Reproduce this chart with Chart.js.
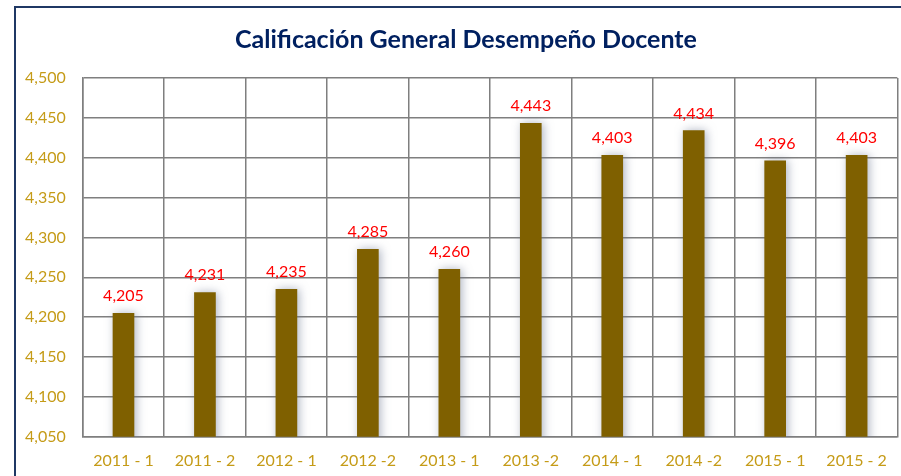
<!DOCTYPE html>
<html>
<head>
<meta charset="utf-8">
<script src="https://cdn.jsdelivr.net/npm/chart.js@4.4.1/dist/chart.umd.min.js"></script>
<style>
  html, body { margin: 0; padding: 0; background: #fff; }
  #wrap { width: 901px; height: 476px; }
</style>
</head>
<body>
<div id="wrap"><canvas id="chart" width="901" height="476"></canvas></div>
<script>
const categories = ['2011 - 1', '2011 - 2', '2012 - 1', '2012 -2', '2013 - 1', '2013 -2', '2014 - 1', '2014 -2', '2015 - 1', '2015 - 2'];
const scores = [4.205, 4.231, 4.235, 4.285, 4.260, 4.443, 4.403, 4.434, 4.396, 4.403];
const yMin = 4.05;
const yMax = 4.5;
const yStep = 0.05;
const chartTitle = 'Calificación General Desempeño Docente';

const fmt = (v) => v.toFixed(3).replace('.', ',');

// navy frame (left + top visible) and the title, centred like the original
const framePlugin = {
  id: 'frame',
  beforeDraw(chart) {
    const ctx = chart.ctx;
    ctx.save();
    ctx.strokeStyle = '#1f3864';
    ctx.lineWidth = 2;
    ctx.beginPath();
    ctx.moveTo(15, 480);
    ctx.lineTo(15, 7);
    ctx.lineTo(905, 7);
    ctx.stroke();

    ctx.fillStyle = '#002060';
    ctx.font = 'bold 25px Lato, "Open Sans", sans-serif';
    ctx.textAlign = 'center';
    ctx.textBaseline = 'middle';
    ctx.fillText(chartTitle, 466, 40);
    ctx.restore();
  }
};

// soft shadow behind the bars
const shadowPlugin = {
  id: 'barShadow',
  beforeDatasetsDraw(chart) {
    const ctx = chart.ctx;
    ctx.save();
    ctx.shadowColor = 'rgba(110, 120, 145, 0.55)';
    ctx.shadowBlur = 10;
    ctx.shadowOffsetX = 2;
    ctx.shadowOffsetY = 0;
  },
  afterDatasetsDraw(chart) {
    chart.ctx.restore();
  }
};

// red value labels above each bar
const valueLabels = {
  id: 'valueLabels',
  afterDatasetsDraw(chart) {
    const ctx = chart.ctx;
    const meta = chart.getDatasetMeta(0);
    ctx.save();
    ctx.fillStyle = '#ff0000';
    ctx.font = '16px Lato, "Open Sans", sans-serif';
    ctx.textAlign = 'center';
    ctx.textBaseline = 'alphabetic';
    meta.data.forEach((bar, i) => {
      ctx.fillText(fmt(scores[i]), bar.x, bar.y - 12);
    });
    ctx.restore();
  }
};

new Chart(document.getElementById('chart'), {
  type: 'bar',
  data: {
    labels: categories,
    datasets: [{
      data: scores,
      backgroundColor: '#7f6000',
      borderWidth: 0,
      barThickness: 21
    }]
  },
  options: {
    responsive: false,
    animation: false,
    layout: { padding: { left: 8, right: 2, top: 78, bottom: -8 } },
    plugins: {
      legend: { display: false },
      tooltip: { enabled: false },
      title: { display: false }
    },
    scales: {
      y: {
        min: yMin,
        max: yMax,
        ticks: {
          stepSize: yStep,
          color: '#c59b17',
          font: { family: 'Lato, "Open Sans", sans-serif', size: 16 },
          padding: 17,
          callback: (v) => fmt(v)
        },
        grid: { color: '#7f7f7f', lineWidth: 1.5, drawTicks: false },
        border: { color: '#7f7f7f', width: 1.5 }
      },
      x: {
        ticks: {
          color: '#c59b17',
          font: { family: 'Lato, "Open Sans", sans-serif', size: 16 },
          padding: 14,
          maxRotation: 0
        },
        grid: { color: '#7f7f7f', lineWidth: 1.5, drawTicks: false },
        border: { color: '#7f7f7f', width: 1.5 }
      }
    }
  },
  plugins: [framePlugin, shadowPlugin, valueLabels]
});
</script>
</body>
</html>
